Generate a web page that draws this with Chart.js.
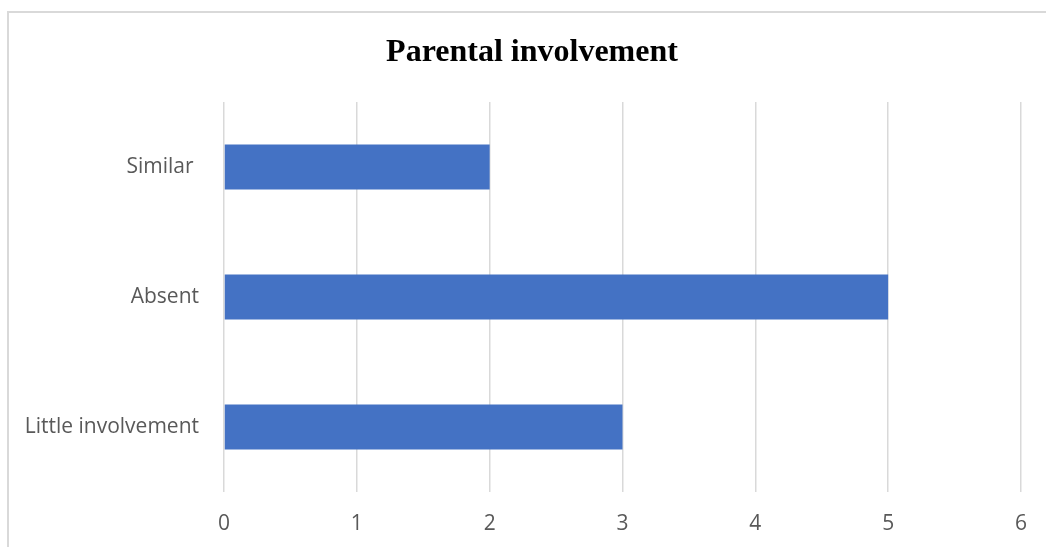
<!DOCTYPE html>
<html>
<head>
<meta charset="utf-8">
<script src="https://cdn.jsdelivr.net/npm/chart.js@4/dist/chart.umd.min.js"></script>
<style>
  html, body { margin: 0; padding: 0; background: #fff; overflow: hidden; }
  #wrap { position: relative; width: 1046px; height: 547px; }
  #frame {
    position: absolute; left: 7px; top: 11px; width: 1200px; height: 800px;
    border-left: 2px solid #d9d9d9; border-top: 2px solid #d9d9d9;
    pointer-events: none;
  }
  canvas { position: absolute; left: 0; top: 0; }
</style>
</head>
<body>
<div id="wrap">
  <canvas id="c" width="1046" height="547"></canvas>
  <div id="frame"></div>
</div>
<script>
// Responses grouped by how involved parents were
const categories = ['Similar ', 'Absent', 'Little involvement'];
const counts = [2, 5, 3];
const axisMin = 0;
const axisMax = 6;
const axisStep = 1;
const chartTitle = 'Parental involvement';

const tickFont = { family: '"Open Sans", "Noto Sans", sans-serif', size: 21 };

// Title centred over the whole framed chart rather than the plot area
const framedTitle = {
  id: 'framedTitle',
  afterDraw(chart) {
    const ctx = chart.ctx;
    ctx.save();
    ctx.font = 'bold 32px "Liberation Serif", "Times New Roman", serif';
    ctx.fillStyle = '#000';
    ctx.textAlign = 'center';
    ctx.textBaseline = 'middle';
    ctx.fillText(chartTitle, 532, 53);
    ctx.restore();
  }
};

new Chart(document.getElementById('c'), {
  type: 'bar',
  data: {
    labels: categories,
    datasets: [{
      data: counts,
      backgroundColor: '#4472C4',
      borderWidth: 0,
      categoryPercentage: 1,
      barPercentage: 0.346
    }]
  },
  options: {
    indexAxis: 'y',
    responsive: false,
    animation: false,
    layout: { padding: { left: 0, right: 24, top: 102, bottom: 0 } },
    plugins: {
      legend: { display: false },
      tooltip: { enabled: false },
      title: { display: false }
    },
    scales: {
      x: {
        min: axisMin,
        max: axisMax,
        ticks: { stepSize: axisStep, color: '#595959', font: tickFont, padding: 19 },
        grid: { color: '#d9d9d9', lineWidth: 1.5, drawTicks: false },
        border: { display: false },
        afterFit: (s) => { s.height = 55; }
      },
      y: {
        ticks: { color: '#595959', font: tickFont, padding: 17 },
        grid: { display: false },
        border: { display: false },
        afterFit: (s) => { s.width = 224; }
      }
    }
  },
  plugins: [framedTitle]
});
</script>
</body>
</html>
